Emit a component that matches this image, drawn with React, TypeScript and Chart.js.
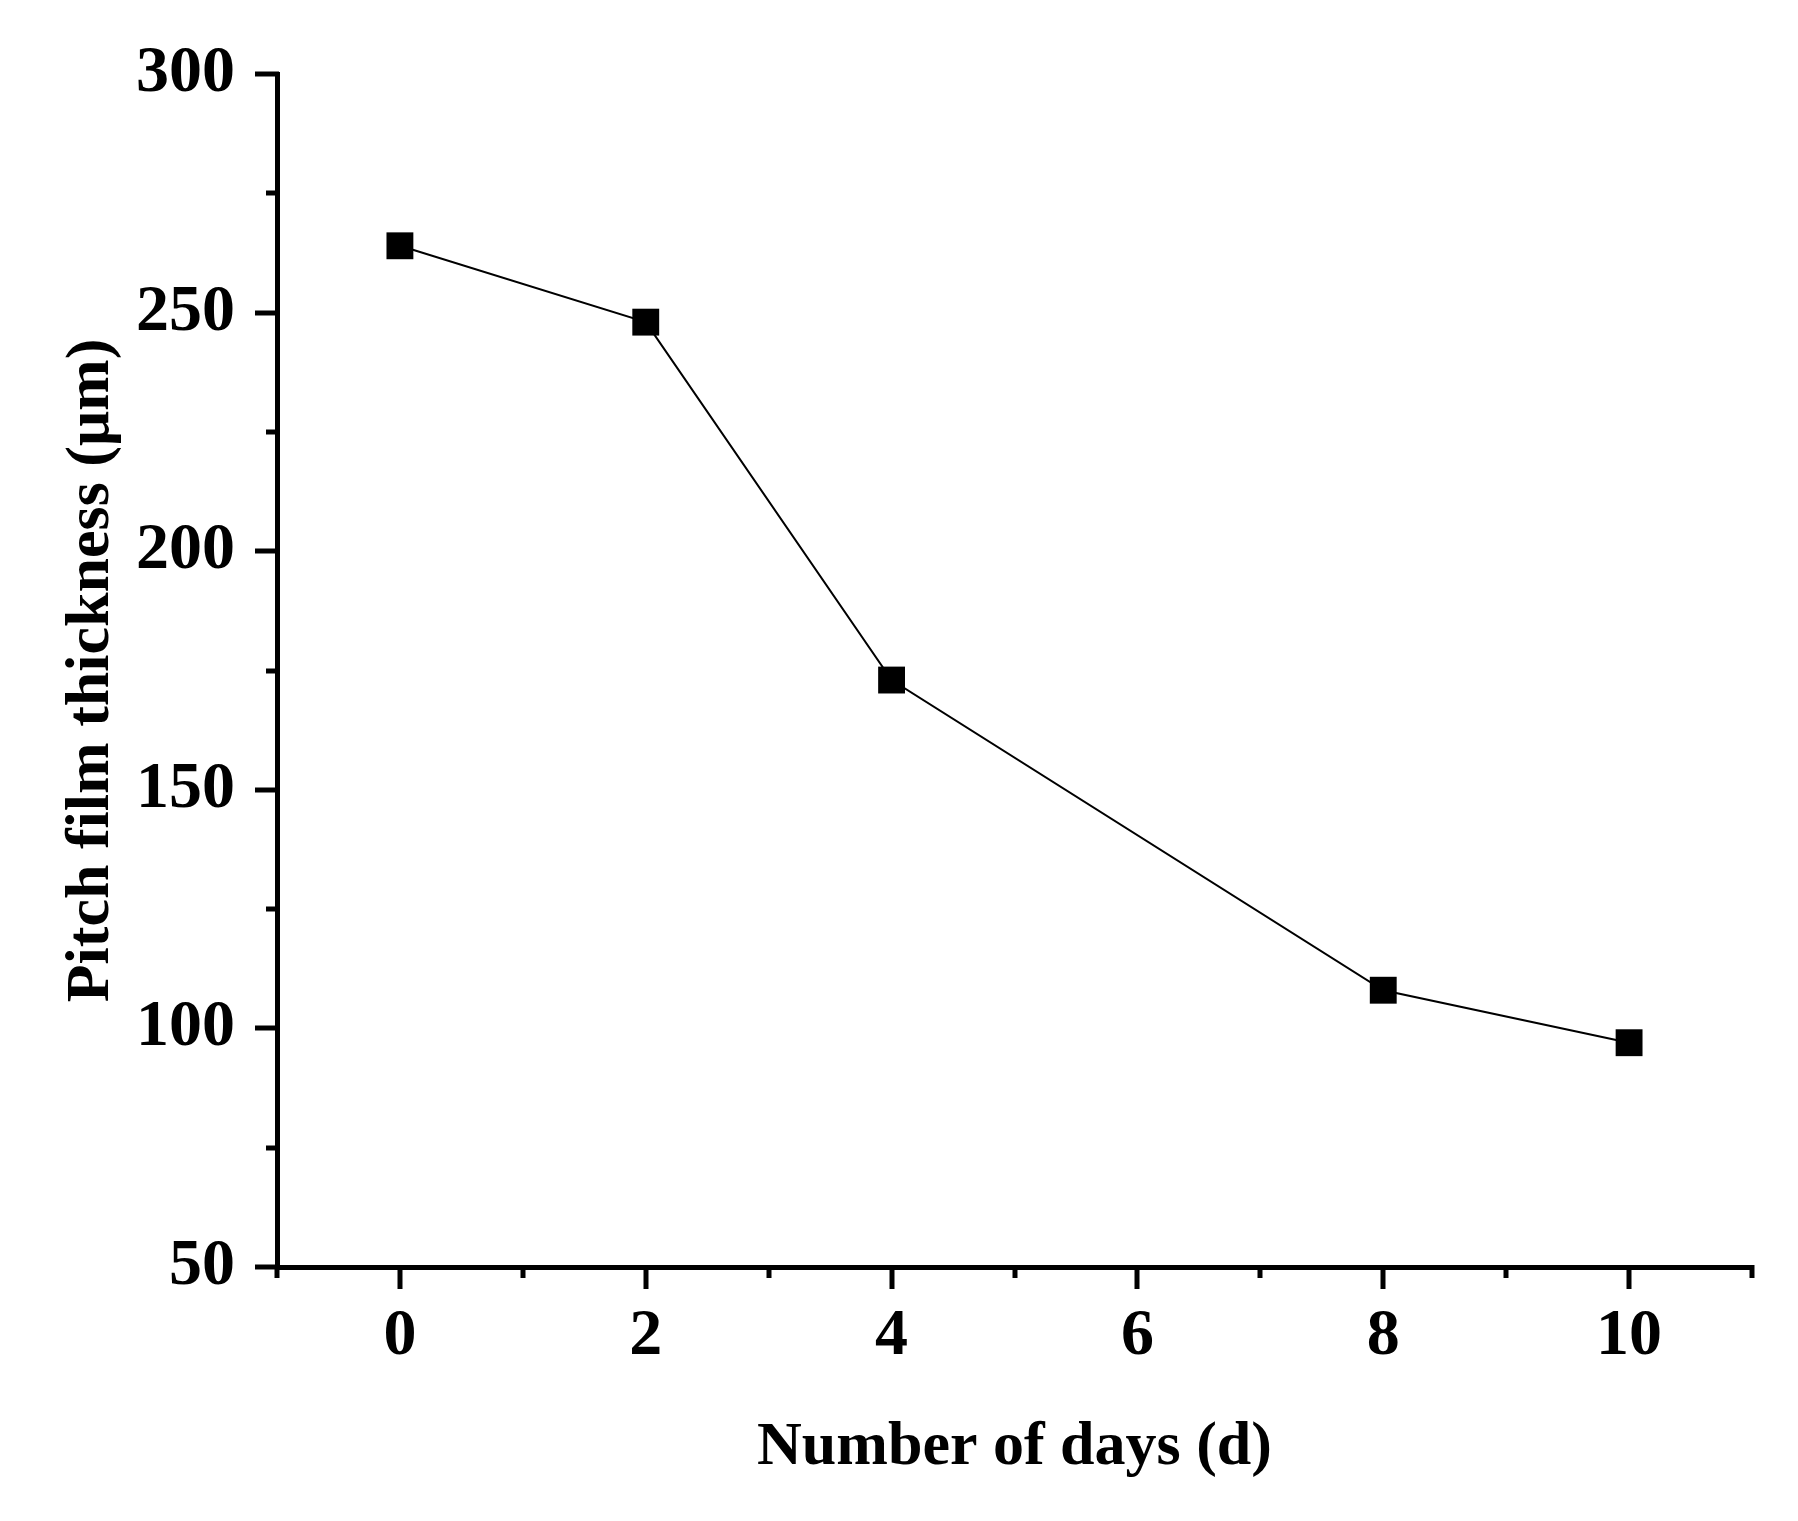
import React, { useEffect, useRef } from "react";
import { Chart, registerables } from "chart.js";

Chart.register(...registerables);

const days = [0, 2, 4, 8, 10];
const thickness = [264, 248, 173, 108, 97];
const xMajorTicks = [0, 2, 4, 6, 8, 10];
const xMinorTicks = [-1, 1, 3, 5, 7, 9, 11];
const yMajorTicks = [50, 100, 150, 200, 250, 300];
const yMinorTicks = [75, 125, 175, 225, 275];
const xTitle = "Number of days (d)";
const yTitle = "Pitch film thickness (\u03bcm)";

const FONT = "'Liberation Serif', 'Times New Roman', serif";

const tickPlugin = {
  id: "originTicks",
  afterDraw(chart: any) {
    const { ctx, chartArea, scales } = chart;
    const xs = scales.x;
    const ys = scales.y;
    ctx.save();
    ctx.strokeStyle = "#000";
    ctx.lineWidth = 5;
    ctx.lineCap = "butt";
    const left = chartArea.left;
    const bottom = chartArea.bottom;
    const drawY = (v: number, len: number) => {
      const py = Math.round(ys.getPixelForValue(v));
      ctx.beginPath();
      ctx.moveTo(left + 2, py);
      ctx.lineTo(left - len, py);
      ctx.stroke();
    };
    const drawX = (v: number, len: number) => {
      const px = Math.round(xs.getPixelForValue(v));
      ctx.beginPath();
      ctx.moveTo(px, bottom - 2);
      ctx.lineTo(px, bottom + len);
      ctx.stroke();
    };
    yMajorTicks.forEach((v) => drawY(v, 22));
    yMinorTicks.forEach((v) => drawY(v, 11));
    xMajorTicks.forEach((v) => drawX(v, 22));
    xMinorTicks.forEach((v) => drawX(v, 11));
    ctx.restore();
  },
};

export default function App() {
  const ref = useRef<HTMLCanvasElement>(null);
  useEffect(() => {
    if (!ref.current) return;
    const chart = new Chart(ref.current, {
      type: "line",
      data: {
        datasets: [
          {
            data: days.map((d, i) => ({ x: d, y: thickness[i] })),
            borderColor: "#000",
            backgroundColor: "#000",
            borderWidth: 2,
            pointStyle: "rect",
            pointRadius: 19,
            pointBorderWidth: 0,
            pointBackgroundColor: "#000",
            tension: 0,
          },
        ],
      },
      options: {
        responsive: false,
        animation: false,
        events: [],
        layout: { padding: { top: 74, right: 46, left: 0, bottom: 0 } },
        plugins: { legend: { display: false }, tooltip: { enabled: false } },
        scales: {
          x: {
            type: "linear",
            min: -1,
            max: 11,
            afterBuildTicks: (s: any) => {
              s.ticks = xMajorTicks.map((v) => ({ value: v }));
            },
            afterFit: (s: any) => {
              s.height = 254;
              s.paddingLeft = 0;
              s.paddingRight = 0;
            },
            grid: { display: true, drawOnChartArea: false, drawTicks: false },
            border: { display: true, color: "#000", width: 5 },
            ticks: {
              color: "#000",
              padding: 30,
              maxRotation: 0,
              autoSkip: false,
              font: { family: FONT, size: 66, weight: "bold" },
            },
            title: {
              display: true,
              text: xTitle,
              color: "#000",
              padding: { top: 36, bottom: 36 },
              font: { family: FONT, size: 62, weight: "bold" },
            },
          },
          y: {
            type: "linear",
            min: 50,
            max: 300,
            afterBuildTicks: (s: any) => {
              s.ticks = yMajorTicks.map((v) => ({ value: v }));
            },
            afterFit: (s: any) => {
              s.width = 277;
              s.paddingTop = 0;
              s.paddingBottom = 0;
            },
            grid: { display: true, drawOnChartArea: false, drawTicks: false },
            border: { display: true, color: "#000", width: 5 },
            ticks: {
              color: "#000",
              padding: 42,
              autoSkip: false,
              font: { family: FONT, size: 66, weight: "bold" },
            },
            title: {
              display: true,
              text: yTitle,
              color: "#000",
              padding: { top: 55, bottom: 55 },
              font: { family: FONT, size: 62, weight: "bold" },
            },
          },
        },
      },
      plugins: [tickPlugin],
    } as any);
    return () => chart.destroy();
  }, []);
  return (
    <div style={{ position: "absolute", left: 0, top: 0, width: 1798, height: 1521, background: "#fff" }}>
      <canvas ref={ref} width={1798} height={1521} style={{ display: "block" }} />
    </div>
  );
}
